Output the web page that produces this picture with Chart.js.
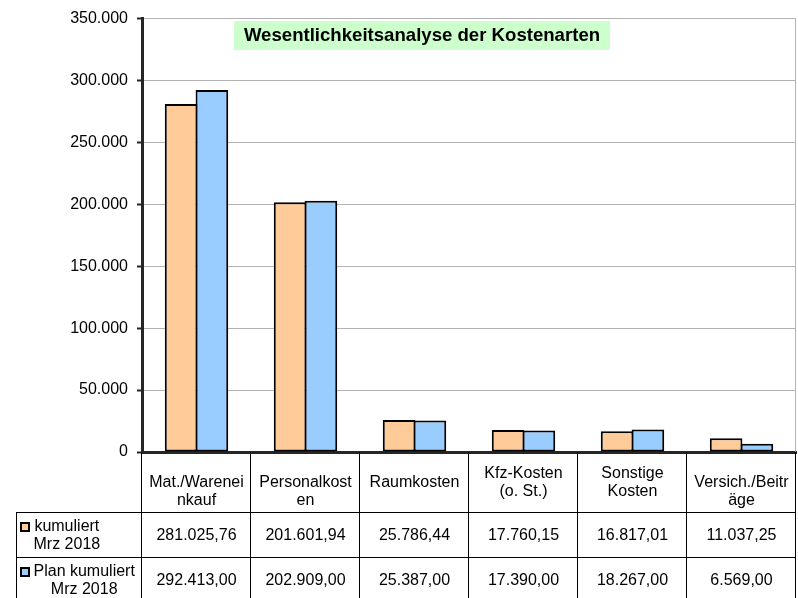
<!DOCTYPE html>
<html><head><meta charset="utf-8">
<script src="https://cdn.jsdelivr.net/npm/chart.js@4/dist/chart.umd.min.js"></script>
<style>html,body{margin:0;padding:0;background:#fff;overflow:hidden}#wrap{width:798px;height:598px;position:relative}</style>
</head><body><div id="wrap"><canvas id="c"></canvas></div>
<script>
const categories = ['Mat./Wareneinkauf', 'Personalkosten', 'Raumkosten', 'Kfz-Kosten (o. St.)', 'Sonstige Kosten', 'Versich./Beiträge'];
const seriesActualName = ['kumuliert', 'Mrz 2018'];
const seriesPlanName = ['Plan kumuliert', 'Mrz 2018'];
const actualValues = [281025.76, 201601.94, 25786.44, 17760.15, 16817.01, 11037.25];
const planValues = [292413.00, 202909.00, 25387.00, 17390.00, 18267.00, 6569.00];
const yTickValues = [0, 50000, 100000, 150000, 200000, 250000, 300000, 350000];
const chartTitle = 'Wesentlichkeitsanalyse der Kostenarten';

const FONT = '"Liberation Sans", Arial, sans-serif';
const DARK = '#262626';
const fmtTick = v => new Intl.NumberFormat('de-DE', {maximumFractionDigits: 0}).format(v);
const fmtVal = v => new Intl.NumberFormat('de-DE', {minimumFractionDigits: 2, maximumFractionDigits: 2}).format(v);

function wrapText(ctx, text, maxW) {
  const words = text.split(' ');
  const lines = []; let cur = ''; let midWord = false;
  for (const w of words) {
    const test = cur ? cur + ' ' + w : w;
    if (ctx.measureText(test).width <= maxW) { cur = test; continue; }
    if (cur) { lines.push(cur); cur = ''; }
    let word = w;
    while (ctx.measureText(word).width > maxW) {
      let i = word.length;
      while (i > 1 && ctx.measureText(word.slice(0, i)).width > maxW) i--;
      lines.push(word.slice(0, i)); word = word.slice(i); midWord = true;
    }
    cur = word;
  }
  if (cur) lines.push(cur);
  return {lines, midWord};
}

const tablePlugin = {
  id: 'tablePlugin',
  afterDraw(chart) {
    const ctx = chart.ctx;
    const area = chart.chartArea;
    const xs = chart.scales.x;
    const n = categories.length;
    const step = (area.right - area.left) / n;
    const headerH = 60, rowH = 45, lh = 18;
    const top = Math.round(area.bottom);
    const r1 = top + headerH, r2 = r1 + rowH, r3 = r2 + rowH;
    const legendLeft = 16;
    ctx.save();
    // right border of plot area
    ctx.strokeStyle = '#b3b3b3'; ctx.lineWidth = 1;
    ctx.beginPath(); ctx.moveTo(Math.round(area.right) - 0.5, area.top); ctx.lineTo(Math.round(area.right) - 0.5, area.bottom); ctx.stroke();
    // title box
    ctx.font = 'bold 18.6px ' + FONT;
    const tw = ctx.measureText(chartTitle).width;
    const cx = 422, cy = 35;
    ctx.fillStyle = '#ccffcc';
    ctx.fillRect(Math.round(cx - tw / 2 - 10), cy - 14, Math.round(tw + 20), 29);
    ctx.fillStyle = '#000'; ctx.textAlign = 'center'; ctx.textBaseline = 'middle';
    ctx.fillText(chartTitle, cx, cy + 1);
    // table lines
    ctx.strokeStyle = '#000'; ctx.lineWidth = 1;
    ctx.beginPath();
    for (let i = 0; i <= n; i++) {
      const x = Math.round(area.left + i * step) - 0.5;
      ctx.moveTo(x, top); ctx.lineTo(x, r3 + 5);
    }
    ctx.moveTo(legendLeft + 0.5, r1); ctx.lineTo(legendLeft + 0.5, r3 + 5);
    ctx.moveTo(legendLeft, r1 + 0.5); ctx.lineTo(area.right, r1 + 0.5);
    ctx.moveTo(legendLeft, r2 + 0.5); ctx.lineTo(area.right, r2 + 0.5);
    ctx.stroke();
    // header labels
    ctx.font = '16px ' + FONT; ctx.fillStyle = '#000';
    const hc = top + headerH / 2 + 1;
    categories.forEach((cat, i) => {
      const x = xs.getPixelForValue(i);
      const {lines, midWord} = wrapText(ctx, cat, step - 8);
      const y0 = midWord ? hc : hc - (lines.length - 1) * lh / 2;
      lines.forEach((l, k) => ctx.fillText(l, x, y0 + k * lh));
    });
    // rows
    const rows = [
      {name: seriesActualName, vals: actualValues, color: chart.data.datasets[0].backgroundColor, top: r1},
      {name: seriesPlanName, vals: planValues, color: chart.data.datasets[1].backgroundColor, top: r2}
    ];
    rows.forEach(r => {
      const c = r.top + rowH / 2 + 1;
      r.vals.forEach((v, i) => ctx.fillText(fmtVal(v), xs.getPixelForValue(i), c));
      const y0 = c - (r.name.length - 1) * lh / 2;
      const bw = Math.max(...r.name.map(s => ctx.measureText(s).width));
      const bx = 33.5 + bw / 2;
      r.name.forEach((s, k) => ctx.fillText(s, bx, y0 + k * lh));
      // marker
      ctx.fillStyle = r.color; ctx.fillRect(21, Math.round(y0 - 4), 8, 8);
      ctx.strokeStyle = '#000'; ctx.lineWidth = 2; ctx.strokeRect(21, Math.round(y0 - 4), 8, 8);
      ctx.fillStyle = '#000';
    });
    ctx.restore();
  }
};

new Chart(document.getElementById('c'), {
  type: 'bar',
  data: {
    labels: categories,
    datasets: [
      {label: seriesActualName.join(' '), data: actualValues, backgroundColor: '#ffcc99', borderColor: '#000', borderWidth: 2, borderSkipped: false},
      {label: seriesPlanName.join(' '), data: planValues, backgroundColor: '#99ccff', borderColor: '#000', borderWidth: 2, borderSkipped: false}
    ]
  },
  options: {
    responsive: true, maintainAspectRatio: false, animation: false,
    devicePixelRatio: 1,
    layout: {padding: {top: 17, right: 2, bottom: 146, left: 0}},
    datasets: {bar: {categoryPercentage: 0.565, barPercentage: 1.06}},
    plugins: {legend: {display: false}, tooltip: {enabled: false}, title: {display: false}},
    scales: {
      x: {
        type: 'category', offset: true,
        grid: {display: false, drawTicks: false},
        ticks: {display: false},
        border: {display: true, color: DARK, width: 3},
        afterFit: s => { s.height = 0; }
      },
      y: {
        min: 0, max: 350000,
        afterBuildTicks: s => { s.ticks = yTickValues.map(v => ({value: v})); },
        ticks: {callback: v => fmtTick(v), color: '#000', font: {family: FONT, size: 16}, padding: 9},
        grid: {color: '#b3b3b3', lineWidth: 1, tickLength: 5, tickColor: DARK, tickWidth: 2},
        border: {display: true, color: DARK, width: 3},
        afterFit: s => { s.width = 142; }
      }
    }
  },
  plugins: [tablePlugin]
});
</script></body></html>
